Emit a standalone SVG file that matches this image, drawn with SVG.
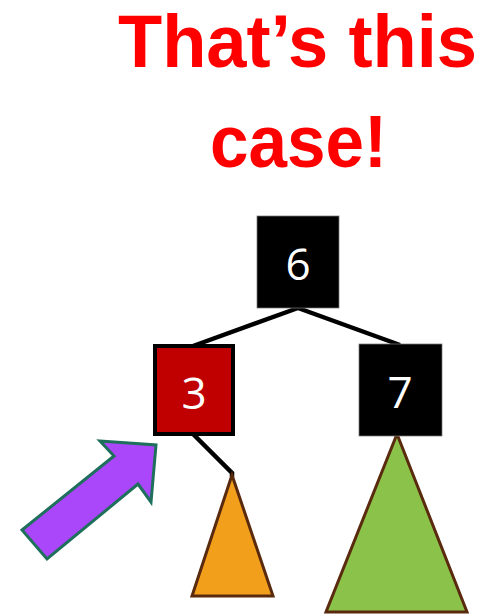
<svg xmlns="http://www.w3.org/2000/svg" width="489" height="616" viewBox="0 0 489 616">
<style>
.title{font-family:"Liberation Sans",Arial,sans-serif;font-weight:bold;font-size:74px;fill:#FF0000;text-anchor:middle}
.num{font-family:"Open Sans","Liberation Sans",sans-serif;font-size:44px;fill:#FFFFFF;text-anchor:middle}
.edge{stroke:#000;stroke-width:4.5;fill:none}
.tri{stroke:#5A2A0E;stroke-width:3;stroke-linejoin:miter}
</style>
<rect width="489" height="616" fill="#fff"/>
<text class="title" x="297.5" y="67" textLength="359" lengthAdjust="spacingAndGlyphs">That’s this</text>
<text class="title" x="298.5" y="167" textLength="177" lengthAdjust="spacingAndGlyphs">case!</text>
<g id="connectors">
<line class="edge" x1="298" y1="308" x2="193" y2="346"/>
<line class="edge" x1="298" y1="308" x2="400" y2="345"/>
<polyline class="edge" points="193,434 232,473 232,477"/>
</g>
<g id="tree-left">
<polygon class="tri" fill="#F29F1C" points="232,475 273,596 192,596"/>
</g>
<g id="tree-right">
<polygon class="tri" fill="#8BC34A" points="397,434 467,612 326,612"/>
</g>
<g id="node-6">
<rect x="257" y="216" width="82" height="92" fill="#000" stroke="#777" stroke-width="0.75"/>
<text class="num" x="298" y="280">6</text>
</g>
<g id="node-3">
<rect x="155" y="346" width="78" height="88" fill="#C00000" stroke="#000" stroke-width="4"/>
<text class="num" x="194" y="409">3</text>
</g>
<g id="node-7">
<rect x="359" y="344" width="83" height="92" fill="#000" stroke="#777" stroke-width="0.75"/>
<text class="num" x="400" y="408">7</text>
</g>
<g id="arrow">
<polygon points="22,530 114,456 100,441 156,445 151,502 138,484 47,559" fill="#AA47FB" stroke="#1E6F5C" stroke-width="3" stroke-linejoin="miter"/>
</g>
</svg>
